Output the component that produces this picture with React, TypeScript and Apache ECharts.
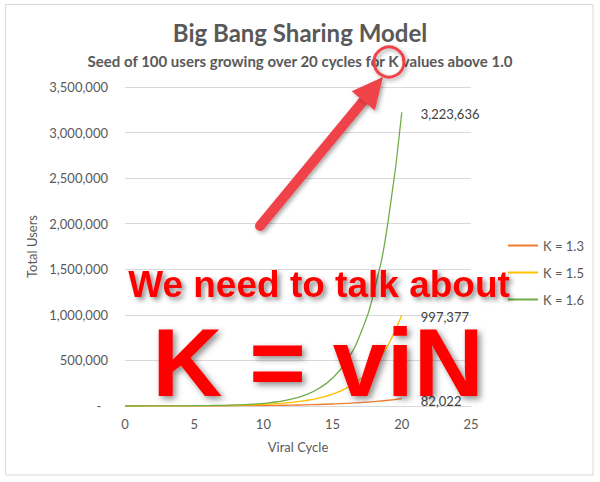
import React, { useEffect, useRef } from "react";
import * as echarts from "echarts";

const chartTitle = "Big Bang Sharing Model";
const chartSubtitle = "Seed of 100 users growing over 20 cycles for K values above 1.0";
const xAxisName = "Viral Cycle";
const yAxisName = "Total Users";
const seriesNames = ["K = 1.3", "K = 1.5", "K = 1.6"];
const seriesColors = ["#ED7D31", "#FFC000", "#70AD47"];

const cycles = [0, 1, 2, 3, 4, 5, 6, 7, 8, 9, 10, 11, 12, 13, 14, 15, 16, 17, 18, 19, 20];
const usersK13 = [100, 230, 399, 619, 904, 1276, 1758, 2386, 3201, 4262, 5641, 7433, 9762, 12791, 16729, 21847, 28501, 37152, 48397, 63017, 82022];
const usersK15 = [100, 250, 475, 813, 1319, 2078, 3217, 4926, 7489, 11333, 17100, 25749, 38724, 58186, 87379, 131168, 196852, 295378, 443168, 664851, 997377];
const usersK16 = [100, 260, 516, 926, 1581, 2630, 4307, 6992, 11287, 18159, 29154, 46746, 74893, 119929, 191987, 307279, 491747, 786894, 1259131, 2014710, 3223636];

const overlayLine1 = "We need to talk about";
const overlayLine2 = "K = viN";

const fmt = (v: number) => String(Math.round(v)).replace(/\B(?=(\d{3})+(?!\d))/g, ",");

export default function App() {
  const ref = useRef<HTMLDivElement>(null);

  useEffect(() => {
    if (!ref.current) return;
    const chart = echarts.init(ref.current, undefined, { renderer: "svg" });
    const allSeries = [usersK13, usersK15, usersK16];
    const font = "Lato, 'Liberation Sans', sans-serif";
    const red = "#EF4249";

    const series = allSeries.map((vals, si) => ({
      name: seriesNames[si],
      type: "line",
      smooth: true,
      symbol: "none",
      showSymbol: false,
      color: seriesColors[si],
      lineStyle: { width: 1.3, color: seriesColors[si] },
      z: 2 + si,
      endLabel: {
        show: true,
        offset: [11, 2],
        formatter: (p: any) => fmt(p.value[1]),
        color: "#404040",
        fontSize: 13,
        fontFamily: font,
      },
      data: cycles.map((c, i) => [c, vals[i]]),
    }));

    const tip = [383, 77];
    const tail = [260, 226];
    const dx = tip[0] - tail[0];
    const dy = tip[1] - tail[1];
    const len = Math.sqrt(dx * dx + dy * dy);
    const ux = dx / len;
    const uy = dy / len;
    const headLen = 31;
    const headHalf = 15;
    const bx = tip[0] - ux * headLen;
    const by = tip[1] - uy * headLen;
    const nx = -uy;
    const ny = ux;

    const shadow = {
      shadowBlur: 4,
      shadowColor: "rgba(0,0,0,0.35)",
      shadowOffsetX: 2,
      shadowOffsetY: 2,
    };

    chart.setOption({
      animation: false,
      backgroundColor: "#ffffff",
      title: [
        {
          text: chartTitle,
          left: "center",
          top: 15,
          textStyle: { fontFamily: font, fontSize: 24, fontWeight: "bold", color: "#595959" },
        },
        {
          text: chartSubtitle,
          left: "center",
          top: 48,
          textStyle: { fontFamily: font, fontSize: 15, fontWeight: "bold", color: "#595959" },
        },
      ],
      legend: {
        orient: "vertical",
        left: 503,
        top: 234,
        icon: "rect",
        itemWidth: 30,
        itemHeight: 2,
        itemGap: 14,
        data: seriesNames,
        textStyle: { fontFamily: font, fontSize: 13, color: "#595959" },
      },
      grid: { left: 125, right: 129, top: 87, bottom: 76, containLabel: false },
      xAxis: {
        type: "value",
        min: 0,
        max: 25,
        interval: 5,
        name: xAxisName,
        nameLocation: "middle",
        nameGap: 34,
        nameTextStyle: { fontFamily: font, fontSize: 13, color: "#595959" },
        axisLine: { show: true, lineStyle: { color: "#D9D9D9", width: 1 } },
        axisTick: { show: false },
        splitLine: { show: false },
        axisLabel: { fontFamily: font, fontSize: 13, color: "#595959", margin: 11 },
      },
      yAxis: {
        type: "value",
        min: 0,
        max: 3500000,
        interval: 500000,
        name: yAxisName,
        nameLocation: "middle",
        nameGap: 83,
        nameTextStyle: { fontFamily: font, fontSize: 13, color: "#595959" },
        axisLine: { show: false },
        axisTick: { show: false },
        splitLine: { show: true, lineStyle: { color: "#D9D9D9", width: 1 } },
        axisLabel: {
          fontFamily: font,
          fontSize: 13,
          color: "#595959",
          margin: 17,
          formatter: (v: number) => (v === 0 ? "-  " : fmt(v)),
        },
      },
      series,
      graphic: [
        {
          type: "rect",
          z: 0,
          silent: true,
          shape: { x: 5.5, y: 4.5, width: 587.5, height: 470.5 },
          style: { fill: "none", stroke: "#D9D9D9", lineWidth: 1 },
        },
        {
          type: "text",
          z: 100,
          x: 319,
          y: 284,
          style: {
            text: overlayLine1,
            fill: "#FF0000",
            font: "bold 37px 'Liberation Sans', Arial, sans-serif",
            align: "center",
            verticalAlign: "middle",
            textShadowColor: "rgba(0,0,0,0.45)",
            textShadowBlur: 5,
            textShadowOffsetX: 3,
            textShadowOffsetY: 3,
          },
        },
        {
          type: "text",
          z: 100,
          x: 318,
          y: 362,
          style: {
            text: overlayLine2,
            fill: "#FF0000",
            font: "bold 97px 'Liberation Sans', Arial, sans-serif",
            align: "center",
            verticalAlign: "middle",
            textShadowColor: "rgba(0,0,0,0.45)",
            textShadowBlur: 6,
            textShadowOffsetX: 3,
            textShadowOffsetY: 3,
          },
        },
        {
          type: "line",
          z: 101,
          shape: { x1: tail[0], y1: tail[1], x2: bx + ux * 4, y2: by + uy * 4 },
          style: { stroke: red, lineWidth: 10, lineCap: "round", ...shadow },
        },
        {
          type: "polygon",
          z: 102,
          shape: {
            points: [
              [tip[0], tip[1]],
              [bx + nx * headHalf, by + ny * headHalf],
              [bx - nx * headHalf, by - ny * headHalf],
            ],
          },
          style: { fill: red, ...shadow },
        },
        {
          type: "circle",
          z: 102,
          shape: { cx: 389, cy: 62, r: 15 },
          style: { fill: "none", stroke: red, lineWidth: 3, ...shadow },
        },
      ],
    });

    return () => chart.dispose();
  }, []);

  return (
    <div
      ref={ref}
      style={{ position: "absolute", left: 0, top: 0, width: 600, height: 482 }}
    />
  );
}
